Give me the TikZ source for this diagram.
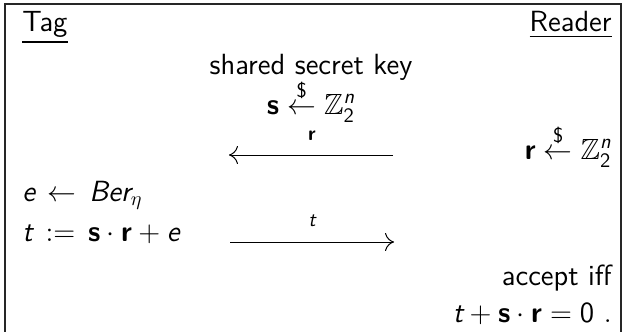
\documentclass[tikz,border=0pt]{standalone}
\usepackage{amsmath,amssymb}
\usetikzlibrary{arrows.meta}
\renewcommand{\familydefault}{\sfdefault}
\newcommand\vi[1]{\textit{#1}}
\newcommand\vb[1]{\textbf{#1}}
\newcommand\up[1]{\textup{#1}}
\begin{document}
\begin{tikzpicture}[x=0.5pt,y=-0.5pt,
  txt/.style={inner sep=0pt,font=\fontsize{14.6}{17}\selectfont},
  lbl/.style={inner sep=0pt,font=\fontsize{14.6}{17}\selectfont},
  msg/.style={line width=0.5pt,-{Computer Modern Rightarrow[length=4.5pt,width=9pt]}},
  frame/.style={line width=0.75pt,draw=black!85}]
\useasboundingbox (0,0) rectangle (622,332);
\draw[frame] (5,332) -- (5,4) -- (621,4) -- (621,332);
\node[txt,anchor=base west] (tag) at (22,32) {\underline{Tag}};
\node[txt,anchor=base east] (reader) at (612,32) {\underline{Reader}};
\node[txt,anchor=base] (shared) at (311,75) {shared secret key};
\node[txt,anchor=base] (skey) at (311,114) {$\vb{s}\stackrel{\up{\$}}{\leftarrow}\mathbb{Z}_{\up{2}}^{\vi{n}}$};
\node[lbl,anchor=base] (rlab) at (312,140) {$\scriptstyle\vb{r}$};
\node[txt,anchor=base east] (rgen) at (612,159) {$\vb{r}\stackrel{\up{\$}}{\leftarrow}\mathbb{Z}_{\up{2}}^{\vi{n}}$};
\coordinate (m1s) at (393,155);
\coordinate (m1e) at (229,155);
\draw[msg] (m1s) -- (m1e);
\node[txt,anchor=base west] (egen) at (22,201) {$\vi{e}\,\leftarrow\,\vi{Ber}_{\eta}$};
\node[txt,anchor=base west] (tdef) at (22,241) {$\vi{t}\,:=\,\vb{s}\cdot\vb{r}+\vi{e}$};
\node[lbl,anchor=base] (tlab) at (312,226) {$\scriptstyle\vi{t}$};
\coordinate (m2s) at (230,242);
\coordinate (m2e) at (394,242);
\draw[msg] (m2s) -- (m2e);
\node[txt,anchor=base east] (acc) at (612,285) {accept iff};
\node[txt,anchor=base east] (chk) at (612,322) {$\vi{t}+\vb{s}\cdot\vb{r}=\up{0}\ .$};
\end{tikzpicture}
\end{document}
